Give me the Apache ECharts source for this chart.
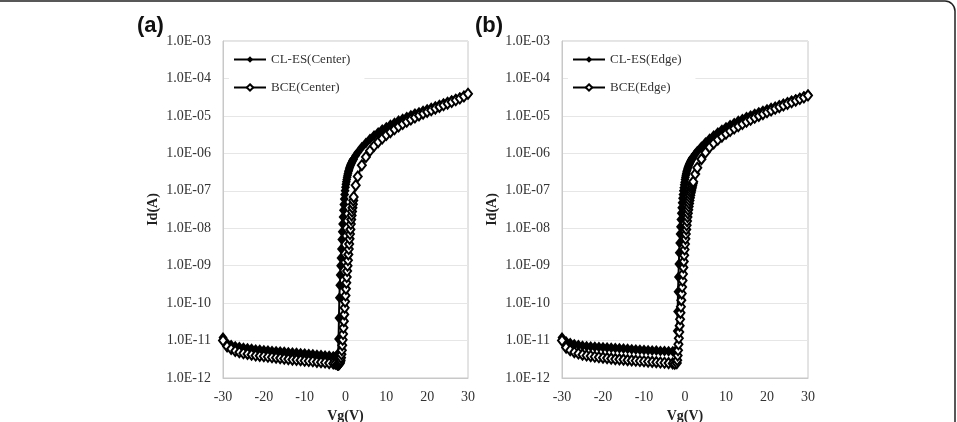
<!DOCTYPE html>
<html>
<head>
<meta charset="utf-8">
<script src="https://cdn.jsdelivr.net/npm/echarts@6/dist/echarts.min.js"></script>
<style>
  html, body { margin: 0; padding: 0; background: #fff; }
  #main { width: 957px; height: 422px; }
</style>
</head>
<body>
<div id="main"></div>
<script>
// gate voltage sweep (V), shared by every curve
var vg = [-30,-29,-28,-27,-26,-25,-24,-23,-22,-21,-20,-19,-18,-17,-16,-15,-14,-13,-12,-11,-10,-9,-8,-7,-6,-5,-4,-3,
  -2.5,-2,-1.9,-1.8,-1.7,-1.6,-1.5,-1.4,-1.3,-1.2,-1.1,-1,-0.9,-0.8,-0.7,-0.6,-0.5,-0.4,-0.3,-0.2,-0.1,
  0,0.1,0.2,0.3,0.4,0.5,0.6,0.7,0.8,0.9,1,1.1,1.2,1.3,1.4,1.5,1.6,1.7,1.8,1.9,2,
  2.5,3,4,5,6,7,8,9,10,11,12,13,14,15,16,17,18,19,20,21,22,23,24,25,26,27,28,29,30];

// (a) center
var idCenterCLES = [1.2e-11,8.5e-12,7.6e-12,7.1e-12,6.7e-12,6.4e-12,6.2e-12,6.0e-12,5.8e-12,5.7e-12,5.5e-12,5.4e-12,5.3e-12,5.2e-12,5.1e-12,5.0e-12,4.9e-12,4.8e-12,4.7e-12,4.6e-12,4.5e-12,4.4e-12,4.3e-12,4.2e-12,4.1e-12,4.0e-12,3.9e-12,3.8e-12,
  3.7e-12,3.6e-12,3.6e-12,4.5e-12,1.1e-11,4e-11,1.4e-10,3e-10,5.6e-10,1e-9,1.6e-9,2.8e-9,5e-9,8e-9,1.3e-8,2e-8,3e-8,4.3e-8,6e-8,8e-8,1.0e-7,
  1.25e-7,1.5e-7,1.75e-7,2e-7,2.3e-7,2.6e-7,2.9e-7,3.2e-7,3.5e-7,3.8e-7,4.1e-7,4.4e-7,4.7e-7,5e-7,5.3e-7,5.6e-7,5.9e-7,6.2e-7,6.5e-7,6.8e-7,7.1e-7,
  8.7e-7,1.05e-6,1.45e-6,1.9e-6,2.4e-6,3.0e-6,3.6e-6,4.3e-6,5.0e-6,5.8e-6,6.6e-6,7.5e-6,8.4e-6,9.4e-6,1.04e-5,1.15e-5,1.26e-5,1.38e-5,1.5e-5,1.65e-5,1.8e-5,1.98e-5,2.17e-5,2.38e-5,2.6e-5,2.85e-5,3.12e-5,3.4e-5,3.8e-5];
var idCenterBCE = [1.0e-11,7e-12,6e-12,5.3e-12,4.9e-12,4.6e-12,4.4e-12,4.2e-12,4.0e-12,3.9e-12,3.8e-12,3.7e-12,3.6e-12,3.5e-12,3.4e-12,3.3e-12,3.2e-12,3.1e-12,3.05e-12,3.0e-12,2.9e-12,2.85e-12,2.8e-12,2.7e-12,2.65e-12,2.6e-12,2.5e-12,2.45e-12,
  2.4e-12,2.3e-12,2.3e-12,2.3e-12,2.3e-12,2.35e-12,2.4e-12,2.5e-12,2.7e-12,3e-12,3.5e-12,4.3e-12,5.5e-12,7.5e-12,1.05e-11,1.5e-11,2.2e-11,3.3e-11,5e-11,7.5e-11,1.1e-10,
  1.6e-10,2.4e-10,3.5e-10,5e-10,7.2e-10,1e-9,1.4e-9,2e-9,2.8e-9,3.8e-9,5.2e-9,7e-9,9.3e-9,1.3e-8,1.7e-8,2.2e-8,2.8e-8,3.5e-8,4.4e-8,5.5e-8,6.8e-8,
  1.4e-7,2.4e-7,4.8e-7,8e-7,1.17e-6,1.57e-6,2.0e-6,2.5e-6,3.1e-6,3.7e-6,4.4e-6,5.2e-6,6.1e-6,7.0e-6,8.0e-6,9.1e-6,1.03e-5,1.15e-5,1.28e-5,1.42e-5,1.57e-5,1.74e-5,1.92e-5,2.13e-5,2.36e-5,2.62e-5,2.92e-5,3.3e-5,3.9e-5];

// (b) edge
var idEdgeCLES = [1.2e-11,9.5e-12,8.6e-12,8.0e-12,7.6e-12,7.3e-12,7.1e-12,6.9e-12,6.8e-12,6.7e-12,6.6e-12,6.5e-12,6.4e-12,6.3e-12,6.2e-12,6.1e-12,6.0e-12,5.9e-12,5.8e-12,5.7e-12,5.6e-12,5.5e-12,5.4e-12,5.4e-12,5.3e-12,5.3e-12,5.2e-12,5.2e-12,
  5.1e-12,5.1e-12,1.8e-11,6e-11,2e-10,5e-10,1.1e-9,2.2e-9,4e-9,7e-9,1.1e-8,1.7e-8,2.5e-8,3.5e-8,4.8e-8,6.3e-8,8e-8,1e-7,1.2e-7,1.45e-7,1.7e-7,
  2e-7,2.3e-7,2.6e-7,2.9e-7,3.2e-7,3.5e-7,3.8e-7,4.1e-7,4.4e-7,4.7e-7,5.0e-7,5.3e-7,5.6e-7,5.9e-7,6.2e-7,6.5e-7,6.8e-7,7.1e-7,7.4e-7,7.7e-7,8e-7,
  9.6e-7,1.13e-6,1.5e-6,1.95e-6,2.45e-6,3.0e-6,3.6e-6,4.25e-6,4.95e-6,5.7e-6,6.5e-6,7.4e-6,8.3e-6,9.3e-6,1.03e-5,1.14e-5,1.25e-5,1.37e-5,1.5e-5,1.64e-5,1.79e-5,1.96e-5,2.14e-5,2.34e-5,2.56e-5,2.8e-5,3.07e-5,3.37e-5,3.7e-5];
var idEdgeBCE = [1.0e-11,6.5e-12,5.5e-12,4.9e-12,4.5e-12,4.2e-12,4.0e-12,3.85e-12,3.7e-12,3.6e-12,3.5e-12,3.4e-12,3.3e-12,3.2e-12,3.15e-12,3.1e-12,3.0e-12,2.95e-12,2.9e-12,2.85e-12,2.8e-12,2.75e-12,2.7e-12,2.65e-12,2.6e-12,2.55e-12,2.5e-12,2.45e-12,
  2.4e-12,2.5e-12,3e-12,4e-12,5.5e-12,8e-12,1.15e-11,1.7e-11,2.5e-11,3.7e-11,5.5e-11,8e-11,1.2e-10,1.8e-10,2.7e-10,4e-10,6e-10,9e-10,1.3e-9,1.9e-9,2.7e-9,
  3.8e-9,5.2e-9,7e-9,9.3e-9,1.2e-8,1.55e-8,2e-8,2.5e-8,3.1e-8,3.8e-8,4.6e-8,5.5e-8,6.5e-8,7.6e-8,8.8e-8,1e-7,1.13e-7,1.27e-7,1.42e-7,1.58e-7,1.75e-7,
  2.8e-7,4.1e-7,7e-7,1.05e-6,1.45e-6,1.85e-6,2.3e-6,2.8e-6,3.35e-6,3.95e-6,4.6e-6,5.3e-6,6.1e-6,7.0e-6,7.9e-6,8.9e-6,1.0e-5,1.12e-5,1.25e-5,1.39e-5,1.55e-5,1.72e-5,1.9e-5,2.1e-5,2.32e-5,2.56e-5,2.82e-5,3.1e-5,3.5e-5];

var serif = '"Liberation Serif", "Times New Roman", serif';

function pairs(ys) {
  return vg.map(function (v, i) { return [v, ys[i]]; });
}

function expLabel(v) {
  var e = Math.round(Math.log10(v));
  var n = Math.abs(e);
  return '1.0E' + (e < 0 ? '-' : '+') + (n < 10 ? '0' + n : n);
}

function xAx(idx) {
  return {
    type: 'value', gridIndex: idx, min: -30, max: 30, interval: 10,
    name: 'Vg(V)', nameLocation: 'middle', nameGap: 29,
    nameTextStyle: { fontFamily: serif, fontWeight: 'bold', fontSize: 14, color: '#222' },
    axisLine: { show: true, onZero: false, lineStyle: { color: '#c8c8c8' } },
    axisTick: { show: false },
    splitLine: { show: false },
    axisLabel: { fontFamily: serif, fontSize: 14, color: '#333', margin: 12 }
  };
}

function yAx(idx) {
  return {
    type: 'log', logBase: 10, gridIndex: idx, min: 1e-12, max: 1e-3, splitNumber: 9,
    name: 'Id(A)', nameLocation: 'middle', nameGap: 63,
    nameTextStyle: { fontFamily: serif, fontWeight: 'bold', fontSize: 14, color: '#222' },
    axisLine: { show: true, onZero: false, lineStyle: { color: '#c8c8c8' } },
    axisTick: { show: false },
    splitLine: { show: true, lineStyle: { color: '#e6e6e6' } },
    minorTick: { show: false },
    axisLabel: { fontFamily: serif, fontSize: 14, color: '#333', margin: 12, formatter: expLabel }
  };
}

function curve(name, idx, ys, filled) {
  return {
    name: name, type: 'line', xAxisIndex: idx, yAxisIndex: idx,
    data: pairs(ys),
    symbol: filled ? 'diamond' : 'emptyDiamond',
    symbolSize: filled ? [9, 11] : [8, 10],
    showSymbol: true, showAllSymbol: true,
    lineStyle: { color: '#000', width: 2 },
    itemStyle: { color: '#000', borderColor: '#000', borderWidth: filled ? 0 : 1.6 },
    emphasis: { disabled: true }
  };
}

function legendFor(left, names) {
  return {
    data: names, orient: 'vertical', left: left, top: 47,
    itemWidth: 32, itemHeight: 8, itemGap: 15,
    padding: [6, 14, 6, 4],
    backgroundColor: '#fff',
    textStyle: { fontFamily: serif, fontSize: 13, color: '#333' }
  };
}

var chart = echarts.init(document.getElementById('main'));
chart.setOption({
  animation: false,
  backgroundColor: '#fff',
  title: [
    { text: '(a)', left: 132, top: 10, textStyle: { fontFamily: '"Liberation Sans", Arial, sans-serif', fontWeight: 'bold', fontSize: 22, color: '#111' } },
    { text: '(b)', left: 470, top: 10, textStyle: { fontFamily: '"Liberation Sans", Arial, sans-serif', fontWeight: 'bold', fontSize: 22, color: '#111' } }
  ],
  legend: [
    legendFor(229, ['CL-ES(Center)', 'BCE(Center)']),
    legendFor(568, ['CL-ES(Edge)', 'BCE(Edge)'])
  ],
  grid: [
    { left: 223, right: 489, top: 41, bottom: 44, outerBoundsMode: 'none', containLabel: false, show: true, borderColor: '#c8c8c8', borderWidth: 1 },
    { left: 562, right: 149, top: 41, bottom: 44, outerBoundsMode: 'none', containLabel: false, show: true, borderColor: '#c8c8c8', borderWidth: 1 }
  ],
  xAxis: [xAx(0), xAx(1)],
  yAxis: [yAx(0), yAx(1)],
  series: [
    curve('CL-ES(Center)', 0, idCenterCLES, true),
    curve('BCE(Center)', 0, idCenterBCE, false),
    curve('CL-ES(Edge)', 1, idEdgeCLES, true),
    curve('BCE(Edge)', 1, idEdgeBCE, false)
  ],
  graphic: [
    {
      type: 'rect', silent: true, z: 100,
      shape: { x: -30, y: 1, width: 985, height: 460, r: 10 },
      style: { fill: null, stroke: '#222', lineWidth: 1.5 }
    }
  ]
});
</script>
</body>
</html>
